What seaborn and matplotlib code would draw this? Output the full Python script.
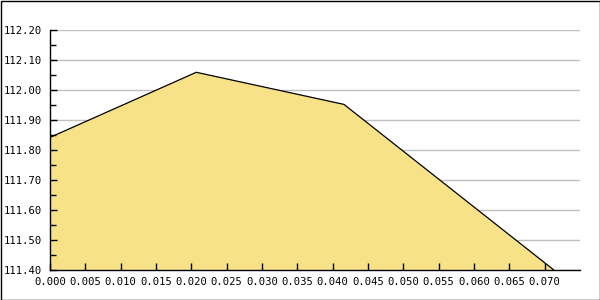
import matplotlib
matplotlib.use("Agg")
import matplotlib.pyplot as plt
import seaborn as sns
import pandas as pd
from matplotlib.patches import Rectangle

x_vals = [0.0, 0.0207, 0.0416, 0.0713]
y_vals = [111.842, 112.059, 111.952, 111.40]
x_ticks = [0.000, 0.005, 0.010, 0.015, 0.020, 0.025, 0.030, 0.035,
           0.040, 0.045, 0.050, 0.055, 0.060, 0.065, 0.070]
x_tick_labels = ["0.000", "0.005", "0.010", "0.015", "0.020", "0.025", "0.030", "0.035",
                 "0.040", "0.045", "0.050", "0.055", "0.060", "0.065", "0.070"]
y_ticks = [111.40, 111.50, 111.60, 111.70, 111.80, 111.90, 112.00, 112.10, 112.20]
y_tick_labels = ["111.40", "111.50", "111.60", "111.70", "111.80", "111.90",
                 "112.00", "112.10", "112.20"]
y_minor_ticks = [111.45, 111.55, 111.65, 111.75, 111.85, 111.95, 112.05, 112.15]

df = pd.DataFrame({"x": x_vals, "y": y_vals})

sns.set_theme(style="white")
plt.rcParams['font.family'] = ['DejaVu Sans Mono', 'DejaVu Sans']

fig = plt.figure(figsize=(6, 3), dpi=100)
ax = fig.add_axes([50/600, 30/300, 530/600, 240/300])

for yt in y_ticks:
    ax.axhline(yt, color="#C0C0C0", linewidth=1, zorder=1)
ax.fill_between(df["x"], df["y"], 111.0, color="#F7E287", linewidth=0, zorder=2)
sns.lineplot(data=df, x="x", y="y", ax=ax, color="black", linewidth=0.9, zorder=3)

ax.set_xlim(0, 0.075)
ax.set_ylim(111.40, 112.20)
ax.set_xticks(x_ticks)
ax.set_xticklabels(x_tick_labels)
ax.set_yticks(y_ticks)
ax.set_yticklabels(y_tick_labels)
ax.set_yticks(y_minor_ticks, minor=True)

ax.grid(False)
ax.set_axisbelow(False)

for s in ["top", "right"]:
    ax.spines[s].set_visible(False)
for s in ["left", "bottom"]:
    ax.spines[s].set_color("black")
    ax.spines[s].set_linewidth(1)
    ax.spines[s].set_zorder(4)

ax.tick_params(axis="both", which="both", direction="in", colors="black",
               labelsize=7.6, width=1)
ax.tick_params(axis="both", which="major", length=5)
ax.tick_params(axis="y", which="minor", length=4)
ax.tick_params(axis="y", which="both", pad=6, left=True)
ax.tick_params(axis="x", which="major", pad=5, bottom=True)
ax.set_xlabel("")
ax.set_ylabel("")

fig.patches.append(Rectangle((0.5/600, 0.5/300), 599/600, 299/300, transform=fig.transFigure,
                             fill=False, edgecolor="black", linewidth=1))

fig.savefig("out.png", dpi=100)
